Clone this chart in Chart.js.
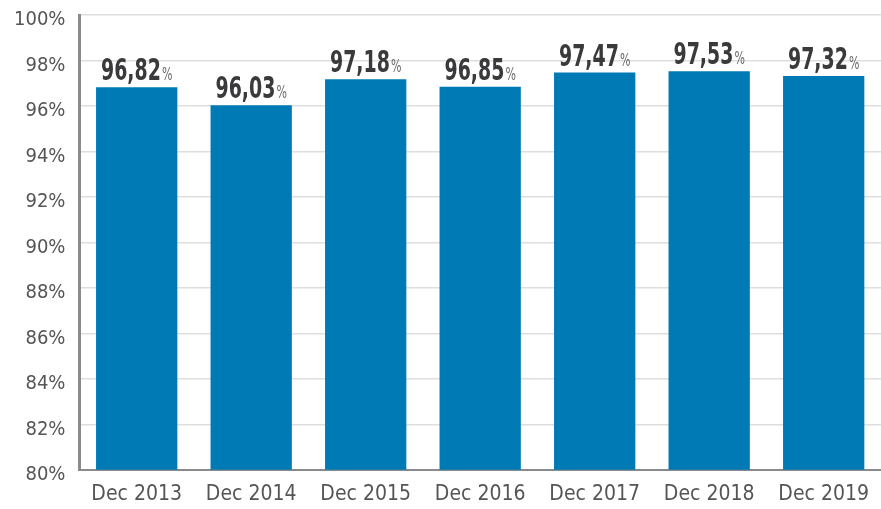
<!DOCTYPE html>
<html>
<head>
<meta charset="utf-8">
<script src="https://cdn.jsdelivr.net/npm/chart.js@4"></script>
<style>
  html, body { margin: 0; padding: 0; background: #fff; }
  #wrap { width: 881px; height: 509px; }
</style>
</head>
<body>
<div id="wrap"><canvas id="chart1"></canvas></div>
<script>
const periods = ['Dec 2013', 'Dec 2014', 'Dec 2015', 'Dec 2016', 'Dec 2017', 'Dec 2018', 'Dec 2019'];
const occupancy = [96.82, 96.03, 97.18, 96.85, 97.47, 97.53, 97.32];

const narrow = "'DejaVu Sans Condensed', 'Roboto', sans-serif";

// etiquetas por cima das barras: numero em negrito + % pequeno (comprimido na horizontal)
const valueLabels = {
    id: 'valueLabels',
    afterDatasetsDraw(chart) {
        const ctx = chart.ctx;
        const meta = chart.getDatasetMeta(0);
        const sx = 0.68;
        meta.data.forEach((bar, i) => {
            const num = occupancy[i].toFixed(2).replace('.', ',');
            ctx.save();
            ctx.textBaseline = 'alphabetic';
            ctx.textAlign = 'left';
            ctx.font = 'bold 31px ' + narrow;
            const w1 = ctx.measureText(num).width * sx;
            ctx.font = '18px ' + narrow;
            const w2 = ctx.measureText('%').width * sx;
            const x0 = bar.x - (w1 + w2 + 1) / 2;
            const y = bar.y - 7;
            ctx.translate(x0, y);
            ctx.scale(sx, 1);
            ctx.fillStyle = '#3a3a3c';
            ctx.font = 'bold 31px ' + narrow;
            ctx.fillText(num, 0, 0);
            ctx.fillStyle = '#6a6a6c';
            ctx.font = '18px ' + narrow;
            ctx.fillText('%', (w1 + 1) / sx, 0);
            ctx.restore();
        });
    }
};

const ctx1 = document.getElementById('chart1').getContext('2d');
const chart1 = new Chart(ctx1, {
    type: 'bar',
    data: {
        labels: periods,
        datasets: [{
            data: occupancy,
            backgroundColor: '#007ab5',
            borderWidth: 0,
            categoryPercentage: 1,
            barPercentage: 0.71
        }]
    },
    options: {
        responsive: true,
        maintainAspectRatio: false,
        animation: false,
        layout: { padding: { top: 15, right: 0, left: 0, bottom: -10 } },
        plugins: {
            legend: { display: false },
            tooltip: { enabled: false }
        },
        scales: {
            x: {
                grid: { display: false, drawTicks: false },
                border: { color: '#8a8a8c', width: 2 },
                ticks: {
                    color: '#555',
                    padding: 12,
                    font: { family: narrow, size: 21 }
                }
            },
            y: {
                min: 80,
                max: 100,
                afterFit: s => { s.paddingTop = 0; s.paddingBottom = 0; },
                grid: { color: '#dedede', lineWidth: 1.5, drawTicks: false },
                border: { color: '#8a8a8c', width: 3 },
                ticks: {
                    stepSize: 2,
                    color: '#555',
                    padding: 14,
                    labelOffset: 5,
                    font: { family: narrow, size: 20 },
                    callback: v => v + '%'
                }
            }
        }
    },
    plugins: [valueLabels]
});
</script>
</body>
</html>
